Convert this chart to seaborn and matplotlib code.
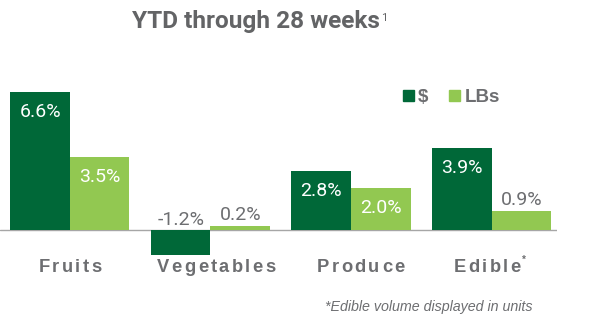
import matplotlib
matplotlib.use("Agg")
import matplotlib.pyplot as plt
import seaborn as sns
import pandas as pd

# ---- data -------------------------------------------------------------
categories = ["Fruits", "Vegetables", "Produce", "Edible"]
dollar_growth = [6.6, -1.2, 2.8, 3.9]
lbs_growth = [3.5, 0.2, 2.0, 0.9]
series_names = ["$", "LBs"]
title_text = "YTD through 28 weeks"
title_note = "1"
footnote = "*Edible volume displayed in units"

# ---- style ------------------------------------------------------------
sns.set_style("white")
plt.rcParams["font.family"] = ["Liberation Sans", "DejaVu Sans"]
VALUE_FONT = ["Roboto", "Liberation Sans", "DejaVu Sans"]

DARK = "#006838"
LIGHT = "#92C851"
GRAY = "#6D6E71"
TITLE_GRAY = "#636466"

W, H, DPI = 596, 333, 100
fig = plt.figure(figsize=(W / DPI, H / DPI), dpi=DPI)
fig.patch.set_facecolor("white")
renderer = fig.canvas.get_renderer()

# axes placed in pixel units
ax_left, ax_right, ax_top, ax_bottom = 0, 557, 60, 290
ax = fig.add_axes([ax_left / W, 1 - ax_bottom / H,
                   (ax_right - ax_left) / W, (ax_bottom - ax_top) / H])

df = pd.DataFrame({
    "category": categories * 2,
    "series": [series_names[0]] * len(categories) + [series_names[1]] * len(categories),
    "value": dollar_growth + lbs_growth,
})

sns.barplot(data=df, x="category", y="value", hue="series",
            order=categories, hue_order=series_names,
            palette=[DARK, LIGHT], width=0.847, linewidth=0,
            saturation=1, errorbar=None, ax=ax, legend=False)

ax.set_xlim(-0.498, 3.466)
ax.set_ylim(-2.871, 8.134)
ax.axhline(0, color="#A6A6A6", lw=1.0, zorder=0.5)
for s in ax.spines.values():
    s.set_visible(False)
ax.set_yticks([])
ax.set_xticks([])
ax.set_xlabel("")
ax.set_ylabel("")

# value labels: inside the bar top for tall bars, above the bar otherwise
for container in ax.containers:
    for bar in container:
        v = bar.get_height() if bar.get_y() >= 0 else bar.get_y()
        xc = bar.get_x() + bar.get_width() / 2
        if v >= 1.5:
            ax.annotate(f"{v:.1f}%", xy=(xc, v), xytext=(0, -20),
                        textcoords="offset pixels", ha="center", va="center",
                        color="white", fontsize=14, family=VALUE_FONT)
        else:
            top = max(v, 0)
            off = 10 if v < 0 else 11
            ax.annotate(f"{v:.1f}%", xy=(xc, top), xytext=(0, off),
                        textcoords="offset pixels", ha="center", va="center",
                        color=GRAY, fontsize=14, family=VALUE_FONT)


def tracked_text(x_center_px, y_px, s, tracking_px, **kw):
    """Draw a string glyph by glyph with extra spacing, centred at x."""
    pieces = []
    widths = []
    for ch in s:
        t = fig.text(0, 1 - y_px / H, ch, ha="left", va="center", **kw)
        widths.append(t.get_window_extent(renderer).width)
        pieces.append(t)
    total = sum(widths) + tracking_px * (len(s) - 1)
    x = x_center_px - total / 2
    for t, w in zip(pieces, widths):
        t.set_x(x / W)
        x += w + tracking_px
    return x - tracking_px


# spaced category labels under each group
to_px = lambda xd: ax.transData.transform((xd, 0))[0]
label_shift = [0.0, 0.04, 0.07, -0.03]
for i, (cat, dx) in enumerate(zip(categories, label_shift)):
    end = tracked_text(to_px(i + dx), 268, cat, 2.4,
                       fontsize=13.2, fontweight="bold", color=GRAY)
    if cat == "Edible":
        fig.text((end + 1.5) / W, 1 - 260 / H, "*", ha="left", va="center",
                 fontsize=7, fontweight="bold", color=GRAY)

# legend
handles = [plt.Rectangle((0, 0), 1, 1, color=c) for c in (DARK, LIGHT)]
fig.legend(handles, series_names, loc="center left",
           bbox_to_anchor=(403 / W, 1 - 97.5 / H), bbox_transform=fig.transFigure,
           ncol=2, frameon=False, borderpad=0, borderaxespad=0,
           handlelength=0.56, handleheight=0.56, handletextpad=0.25,
           columnspacing=1.1, prop={"size": 13.5, "weight": "bold"},
           labelcolor=GRAY)

# title with superscript note
tt = fig.text(132 / W, 1 - 28 / H, title_text, ha="left", va="baseline",
              fontsize=17.6, fontweight="bold", color=TITLE_GRAY,
              family=["Roboto", "DejaVu Sans"])
plt.annotate(title_note, xy=(1, 1), xycoords=tt, xytext=(1, -3),
             textcoords="offset pixels", ha="left", va="top",
             fontsize=8, color=TITLE_GRAY, annotation_clip=False,
             family=["Roboto", "DejaVu Sans"])

fig.text(325 / W, 1 - 307 / H, footnote, ha="left", va="center",
         fontsize=10.3, style="italic", color=GRAY)

fig.savefig("out.png", dpi=DPI, facecolor="white")
